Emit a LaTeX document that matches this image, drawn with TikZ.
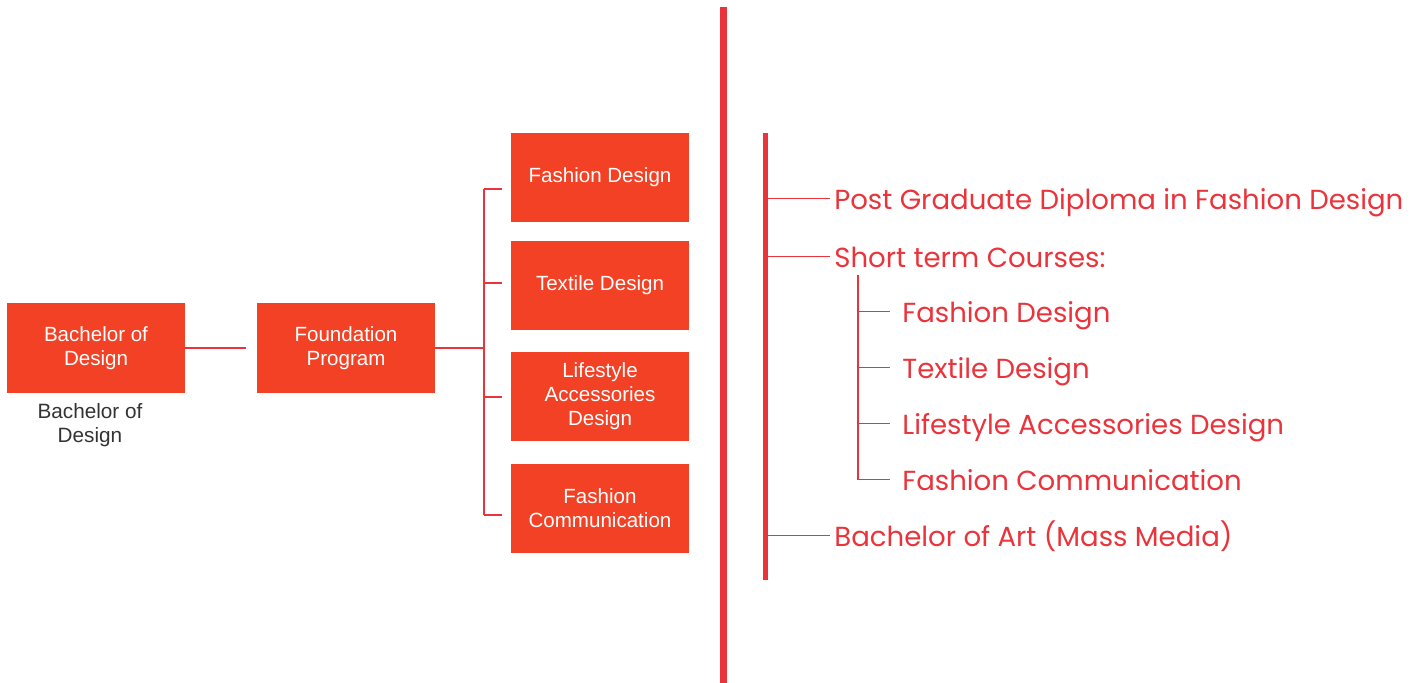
\documentclass[tikz,border=0pt]{standalone}
\usepackage{fontspec}
\setmainfont{Liberation Sans}
\newfontfamily\gothic{Poppins}
\usetikzlibrary{positioning}
\definecolor{boxred}{RGB}{242,65,36}
\definecolor{linered}{RGB}{234,52,60}
\definecolor{labelgray}{RGB}{51,51,51}

\begin{document}
\begin{tikzpicture}[x=0.02cm,y=-0.02cm,
    prog/.style={rectangle,fill=boxred,text=white,minimum width=3.56cm,minimum height=1.8cm,
        inner sep=0pt,align=center,font=\fontsize{11.7}{13.6}\selectfont},
    link/.style={draw=linered,line width=0.8pt},
    course/.style={anchor=base west,text=linered,inner ysep=0pt,inner xsep=0.08cm,
        font=\gothic\fontsize{15.7}{18}\selectfont},
    subcourse/.style={course,inner xsep=0.24cm}]
    \useasboundingbox (0,0) rectangle (1421,683);
    % Programme boxes
    \node[prog] (bdes) at (96,348) {Bachelor of\\Design};
    \node[align=center,text=labelgray,font=\fontsize{11.8}{13.6}\selectfont] (bdeslabel) at (90,425) {Bachelor of\\Design};
    \node[prog] (found) at (346,348) {Foundation\\Program};
    \node[prog] (fd) at (600,177.5) {Fashion Design};
    \node[prog] (td) at (600,285.5) {Textile Design};
    \node[prog] (lad) at (600,396.5) {Lifestyle\\Accessories\\Design};
    \node[prog] (fc) at (600,508.5) {Fashion\\Communication};
    % Edges
    \draw[link,shorten >=0.22cm] (bdes) -- (found);
    \coordinate (fork) at (484,348);
    \draw[link] (found) -- (fork);
    \foreach \n/\dy in {fd/-11.5,td/2.5,lad/-0.5,fc/-6.5} {
        \coordinate (\n-in) at ([yshift=\dy*0.02cm]\n.west);
        \draw[link,shorten >=0.18cm] (fork |- \n-in) -- (\n-in);
    }
    \draw[link] (fork |- fd-in) -- (fork |- fc-in);
    % Divider
    \draw[draw=linered,line width=4.5pt] (723.5,7) -- (723.5,683);
    % Other courses
    \coordinate (spine) at (765.5,133);
    \node[course] (pgd) at (830,209) {Post Graduate Diploma in Fashion Design};
    \node[course] (stc) at (830,267) {Short term Courses:};
    \node[subcourse] (sfd) at (890,322) {Fashion Design};
    \node[subcourse] (std) at (890,378) {Textile Design};
    \node[subcourse] (slad) at (890,434) {Lifestyle Accessories Design};
    \node[subcourse] (sfc) at (890,490) {Fashion Communication};
    \node[course] (bamm) at (830,546) {Bachelor of Art (Mass Media)};
    \foreach \n in {pgd,stc,bamm} {
        \coordinate (\n-in) at ([yshift=0.21cm]\n.base west);
        \draw[link] (spine |- \n-in) -- (\n-in);
    }
    \coordinate (sub) at (858,275);
    \foreach \n in {sfd,std,slad,sfc} {
        \coordinate (\n-in) at ([yshift=0.21cm]\n.base west);
        \draw[link] (sub |- \n-in) -- (\n-in);
    }
    \draw[link] (sub) -- (sub |- sfc-in);
    \draw[draw=linered,line width=2.8pt] (spine) -- (765.5,580);
\end{tikzpicture}
\end{document}
